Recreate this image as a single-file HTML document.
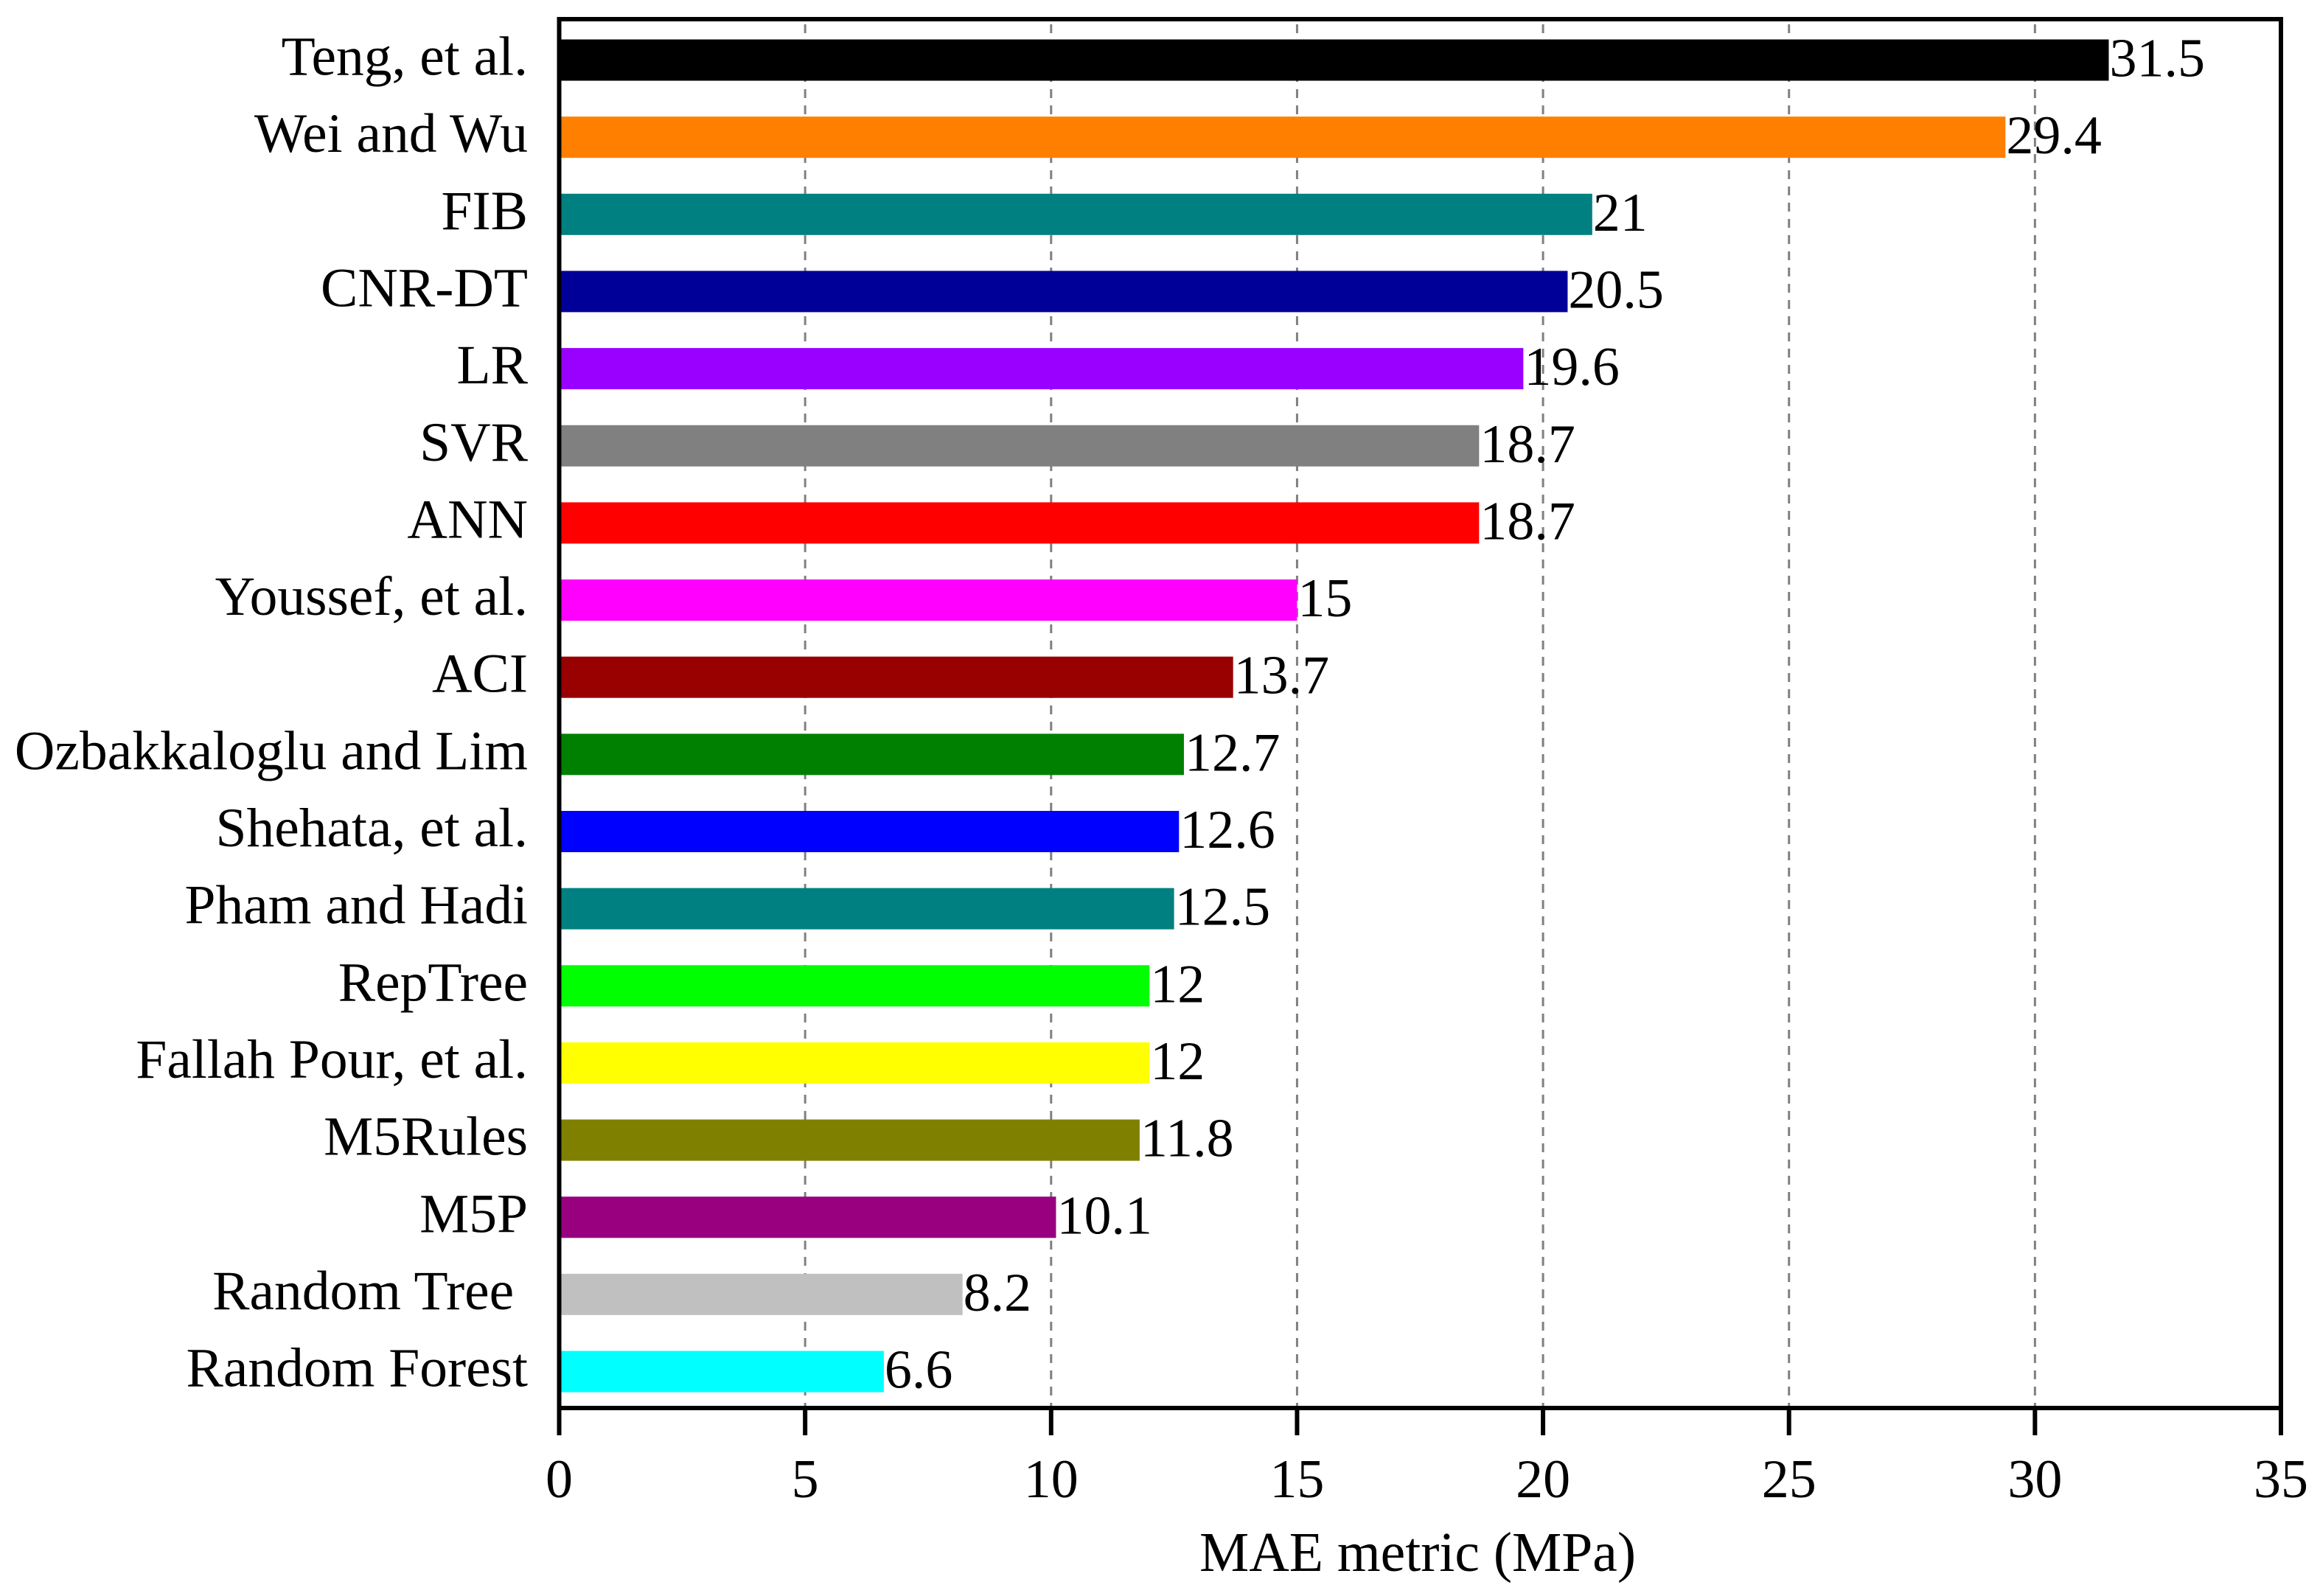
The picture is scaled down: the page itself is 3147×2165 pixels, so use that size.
<!DOCTYPE html>
<html lang="en">
<head>
<meta charset="utf-8">
<title>MAE metric bar chart</title>
<style>
  html, body { margin: 0; padding: 0; background: #ffffff; }
  svg { display: block; }
  text { font-family: "Liberation Serif", "Times New Roman", serif; fill: #000000; font-size: 74px; }
</style>
</head>
<body>
<svg id="chart" xmlns="http://www.w3.org/2000/svg" width="3147" height="2165" viewBox="0 0 3147 2165">
  <rect x="0" y="0" width="3147" height="2165" fill="#ffffff"/>
  <g id="grid"></g>
  <g id="bars"></g>
  <g id="frame"></g>
  <g id="xticks"></g>
  <g id="ylabels"></g>
  <g id="values"></g>
  <text x="1923" y="2131" text-anchor="middle" textLength="592" lengthAdjust="spacingAndGlyphs" style="font-size:76px">MAE metric (MPa)</text>
</svg>
<script>
const categories = ["Teng, et al.", "Wei and Wu", "FIB", "CNR-DT", "LR", "SVR", "ANN", "Youssef, et al.", "ACI", "Ozbakkaloglu and Lim", "Shehata, et al.", "Pham and Hadi", "RepTree", "Fallah Pour, et al.", "M5Rules", "M5P", "Random Tree ", "Random Forest"];
const maeValues = [31.5, 29.4, 21, 20.5, 19.6, 18.7, 18.7, 15, 13.7, 12.7, 12.6, 12.5, 12, 12, 11.8, 10.1, 8.2, 6.6];
const barColors = ["#000000", "#ff8000", "#008080", "#000099", "#9900ff", "#808080", "#ff0000", "#ff00ff", "#990000", "#008000", "#0000ff", "#008080", "#00ff00", "#ffff00", "#808000", "#990080", "#c0c0c0", "#00ffff"];
const xTickValues = [0, 5, 10, 15, 20, 25, 30, 35];

const NS = "http://www.w3.org/2000/svg";
const plotLeft = 758.5, plotRight = 3094, plotTop = 26, plotBottom = 1910;
const xMax = 35;
const firstRowY = 81.5, rowStep = 104.65, barHeight = 56;

function xScale(v) { return plotLeft + (v / xMax) * (plotRight - plotLeft); }
function yScale(i) { return firstRowY + i * rowStep; }

function make(tag, attrs, parent) {
  const el = document.createElementNS(NS, tag);
  for (const k in attrs) el.setAttribute(k, attrs[k]);
  parent.appendChild(el);
  return el;
}

const grid = document.getElementById("grid");
const bars = document.getElementById("bars");
const frame = document.getElementById("frame");
const xticks = document.getElementById("xticks");
const ylabels = document.getElementById("ylabels");
const values = document.getElementById("values");

xTickValues.forEach(function (t) {
  const x = xScale(t);
  if (t > 0 && t < xMax) {
    const g = make("line", { x1: x, x2: x, y1: plotTop + 7, y2: plotBottom, stroke: "#808080", "stroke-width": 3, "stroke-dasharray": "12 10" }, grid);
    
    
  }
  const tick = make("line", { x1: x, x2: x, y1: plotBottom, y2: 1947, stroke: "#000000", "stroke-width": 6 }, xticks);
  
  
  const lab = make("text", { x: x, y: 2031, "text-anchor": "middle" }, xticks);
  lab.textContent = String(t);
  
  
});

maeValues.forEach(function (v, i) {
  const cy = yScale(i);
  const end = xScale(v);
  const bar = make("rect", { x: plotLeft, y: cy - barHeight / 2, width: end - plotLeft, height: barHeight, fill: barColors[i] }, bars);
  
  
  const name = make("text", { x: 716, y: cy + 20, "text-anchor": "end", "xml:space": "preserve", style: "white-space:pre;font-size:75.5px" }, ylabels);
  name.textContent = categories[i];
  
  
  const val = make("text", { x: end + 1, y: cy + 22 }, values);
  val.textContent = String(v);
  
  
});

const box = make("rect", { x: plotLeft, y: plotTop, width: plotRight - plotLeft, height: plotBottom - plotTop, fill: "none", stroke: "#000000", "stroke-width": 6 }, frame);


</script>
</body>
</html>
